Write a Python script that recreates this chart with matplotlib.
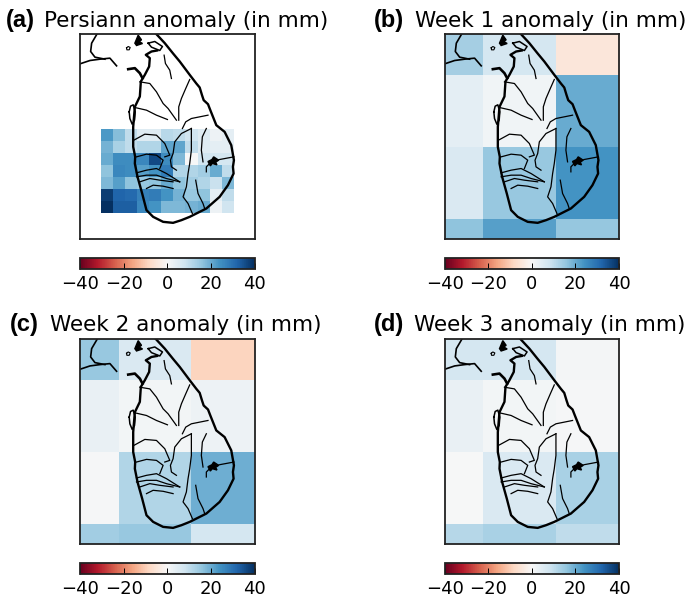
import numpy as np
import matplotlib
matplotlib.use("Agg")
import matplotlib.pyplot as plt

# grid edges in degrees
coarse_lon = [78.0, 79.5, 81.0, 82.5]
coarse_lat = [10.5, 9.0, 7.5, 6.0, 4.5]
fine_lon = [79.125, 79.375, 79.625, 79.875, 80.125, 80.375, 80.625, 80.875, 81.125, 81.375, 81.625, 81.875]
fine_lat = [7.875, 7.625, 7.375, 7.125, 6.875, 6.625, 6.375, 6.125]

# anomaly values in mm, rows go north to south
persiann = [
    [23, 17, 10, 5, 5, 11, 10, 8, 5, 2, 4],
    [19, 13, 10, 12, 12, 21, 21, 10, 5, 4, 4],
    [20, 25, 25, 26, 36, 25, 18, 0, 8, 7, 7],
    [16, 26, 25, 22, 24, 28, 12, 12, 14, 20, 10],
    [18, 22, 16, 15, 16, 20, 16, 14, 12, 9, 18],
    [38, 32, 31, 27, 28, 24, 19, 15, 16, 4, 10],
    [40, 33, 33, 26, 24, 18, 18, 19, 20, 2, 8],
]
week1 = [[13.5, 7, -5], [4, 1.5, 20], [6, 15, 24], [16, 22, 15.5]]
week2 = [[15, 6, -9], [3, 1, 2], [0.5, 12, 19.5], [14, 15, 7]]
week3 = [[7, 7, 0.8], [3, 1, 0.5], [0, 6, 13], [11.5, 13, 10]]

cbar_ticks = [-40, -20, 0, 20, 40]

# coastline and rivers in tracing units
island_x = [468, 495, 520, 540, 570, 590, 600, 607, 612, 625, 632, 640, 650, 675, 695, 703, 700, 702, 685, 660, 620,
            570, 545, 520, 490, 460, 440, 427, 413, 405, 406, 400, 400, 405, 420, 423, 435, 448, 450, 438, 455, 472]
island_y = [100, 129, 160, 184, 224, 250, 262, 285, 300, 312, 330, 350, 375, 395, 435, 480, 500, 520, 555, 590, 625,
            650, 660, 668, 665, 650, 630, 580, 530, 490, 470, 440, 380, 320, 289, 244, 224, 199, 174, 164, 154, 151]
lagoon_x = [445, 465, 488, 480, 455, 445]
lagoon_y = [129, 124, 139, 151, 141, 129]
jaffna_x = [405, 415, 425, 418, 428, 410, 405]
jaffna_y = [129, 105, 119, 124, 130, 136, 129]
puttalam_x = [388, 390, 397, 404, 406, 400, 392, 388]
puttalam_y = [335, 355, 372, 360, 335, 314, 318, 335]
india_x = [[292, 275, 272, 285, 315], [240, 270, 300, 330, 350]]
india_y = [[100, 129, 154, 171, 177], [191, 181, 177, 174, 197]]
mannar_x = [385, 405, 420, 428]
mannar_y = [207, 204, 219, 234]
isle_x = [380, 385, 391, 388, 381, 380]
isle_y = [143, 139, 142, 149, 149, 143]
lake_x = [625, 637, 642, 657, 648, 652, 638, 632, 625]
lake_y = [484, 478, 470, 480, 486, 494, 490, 497, 484]

river_x = [
    [493, 497, 510, 515],
    [420, 450, 470, 490, 505, 530],
    [405, 440, 470, 503],
    [570, 558, 545, 537, 537],
    [625, 600, 575, 558, 548],
    [402, 435, 470, 495, 510, 495],
    [575, 545, 525, 520, 512, 515, 530],
    [575, 575, 570, 565, 560, 550, 565, 578],
    [620, 608, 605, 610],
    [703, 660, 630, 620, 620],
    [588, 595, 610, 615],
    [410, 440, 470, 490, 480],
    [410, 440, 470, 500, 540],
    [410, 440, 470, 500, 540],
    [420, 450, 480, 520],
    [440, 460, 490, 520],
]
river_y = [
    [165, 190, 210, 235],
    [245, 250, 275, 310, 325, 360],
    [322, 330, 345, 358],
    [238, 265, 295, 320, 360],
    [345, 350, 355, 365, 385],
    [420, 402, 405, 430, 465, 470],
    [385, 400, 425, 460, 480, 500, 510],
    [385, 450, 490, 520, 560, 590, 610, 640],
    [385, 410, 450, 485],
    [470, 478, 490, 500, 515],
    [540, 580, 610, 625],
    [470, 462, 465, 480, 505],
    [518, 510, 505, 520, 545],
    [530, 525, 525, 535, 545],
    [545, 535, 540, 545],
    [565, 555, 558, 565],
]

W, H = 687, 598


def to_lon(x):
    return 78.7 + (np.array(x) - 240) / 145.8


def to_lat(y):
    return 9.85 - (np.array(y) - 100) / 144.7


def add_axes_px(left, top, right, bottom):
    return fig.add_axes([left / W, 1 - bottom / H, (right - left) / W, (bottom - top) / H])


def draw_map(ax):
    ax.plot(to_lon(island_x), to_lat(island_y), color="black", lw=1.7)
    ax.plot(to_lon(lagoon_x), to_lat(lagoon_y), color="black", lw=1.1)
    ax.fill(to_lon(jaffna_x), to_lat(jaffna_y), color="black")
    ax.plot(to_lon(puttalam_x), to_lat(puttalam_y), color="black", lw=1.1)
    for xs, ys in zip(india_x, india_y):
        ax.plot(to_lon(xs), to_lat(ys), color="black", lw=1.2)
    ax.plot(to_lon(mannar_x), to_lat(mannar_y), color="black", lw=1.9)
    ax.plot(to_lon(isle_x), to_lat(isle_y), color="black", lw=0.8)
    ax.fill(to_lon(lake_x), to_lat(lake_y), color="black")
    for xs, ys in zip(river_x, river_y):
        ax.plot(to_lon(xs), to_lat(ys), color="black", lw=0.9)


def draw_panel(box, cbar_box, lon, lat, values, letter, title, letter_x, title_x, base_y):
    ax = add_axes_px(*box)
    mesh = ax.pcolormesh(lon, lat, np.array(values), cmap="RdBu", vmin=-40, vmax=40, linewidth=0)
    draw_map(ax)
    ax.set_xlim(78.7, 82.3)
    ax.set_ylim(5.6, 9.85)
    ax.set_xticks([])
    ax.set_yticks([])
    for s in ax.spines.values():
        s.set_linewidth(1.3)
        s.set_color("#222222")

    cax = add_axes_px(*cbar_box)
    cb = fig.colorbar(mesh, cax=cax, orientation="horizontal", ticks=cbar_ticks)
    cb.ax.tick_params(direction="in", length=4, width=0.7, labelsize=13, pad=4)
    cb.outline.set_linewidth(1.3)
    cb.outline.set_edgecolor("#222222")

    fig.text(letter_x / W, 1 - base_y / H, letter, fontsize=17, fontweight="bold",
             family="Liberation Sans", va="baseline")
    fig.text(title_x / W, 1 - base_y / H, title, fontsize=15.5, va="baseline")


fig = plt.figure(figsize=(W / 100, H / 100), dpi=100)

draw_panel((80, 33.5, 254.5, 238.5), (80, 258, 254.5, 269), fine_lon, fine_lat, persiann,
           "(a)", "Persiann anomaly (in mm)", 6, 44, 27)
draw_panel((444.7, 33.5, 619, 238.5), (444.7, 258, 619, 269), coarse_lon, coarse_lat, week1,
           "(b)", "Week 1 anomaly (in mm)", 374, 415, 27)
draw_panel((80, 339, 254.5, 543.5), (80, 563, 254.5, 574), coarse_lon, coarse_lat, week2,
           "(c)", "Week 2 anomaly (in mm)", 10, 50, 331)
draw_panel((444.7, 339, 619, 543.5), (444.7, 563, 619, 574), coarse_lon, coarse_lat, week3,
           "(d)", "Week 3 anomaly (in mm)", 374, 414, 331)

fig.savefig("out.png", dpi=100)
